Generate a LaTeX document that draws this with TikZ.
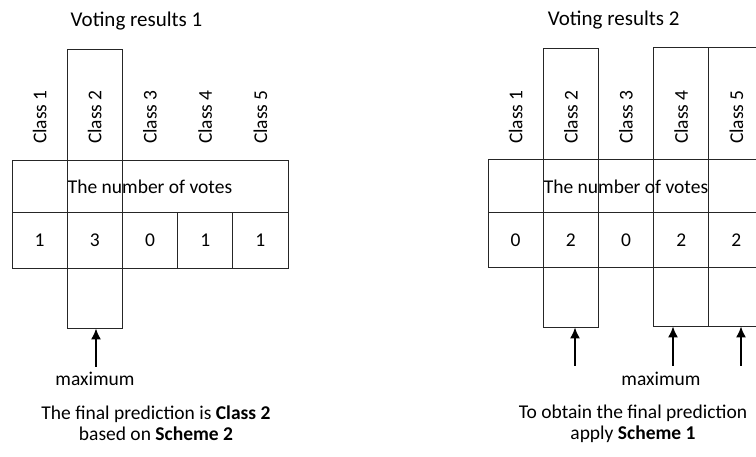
\documentclass[tikz,border=0pt]{standalone}
\usepackage{fontspec}
\setmainfont{Carlito}
\usetikzlibrary{arrows.meta}
\begin{document}
\begin{tikzpicture}[x=1pt,y=-1pt,
  every node/.style={font=\fontsize{19.5}{21}\selectfont, text=black},
  ln/.style={draw=black!85, line width=0.9pt},
  cell/.style={ln, minimum width=55.2pt, minimum height=55.5pt, inner sep=0pt},
  hdr/.style={ln, minimum width=276pt, minimum height=52.5pt, inner sep=0pt},
  tall/.style={ln, minimum width=55.2pt, minimum height=279pt, inner sep=0pt},
  cls/.style={rotate=90, inner sep=0pt},
  ttl/.style={font=\fontsize{21}{23}\selectfont},
  arr/.style={draw=black, line width=1.6pt, -{Latex[length=11pt,width=10pt]}},
  captext/.style={align=center, font=\fontsize{19.5}{20.5}\selectfont}
]
\useasboundingbox (0,0) rectangle (756,457);
\clip (0,0) rectangle (756,457);
% ---------- Left ----------
\node[ttl] (t1) at (136.5,21) {Voting results 1};
\node[tall] (L2) at (94.8,188.5) {};
\node[hdr] (Lh) at (150,186.25) {};
\node (Lht) at (150,187) {The number of votes};
\foreach \i/\v in {1/1,2/3,3/0,4/1,5/1}{
  \node[cell] (Lv\i) at ({12+55.2*(\i-0.5)},240.25) {\v};
  \node[cls] (Lc\i) at ({12+55.2*(\i-0.5)},117) {Class \i};
}
\coordinate (La) at (96,367);
\draw[arr] (La) -- (La |- L2.south);
\node (Lm) at (95,379) {maximum};
\node[captext] (Lf) at (156,423) {The final prediction is \textbf{Class 2}\\based on \textbf{Scheme 2}};
% ---------- Right ----------
\node[ttl] (t2) at (613.7,20) {Voting results 2};
\node[tall] (R2) at (570.8,187.5) {};
\node[tall] (R4) at (681.2,186.5) {};
\node[tall] (R5) at (736.4,186.5) {};
\node[hdr] (Rh) at (626,186) {};
\node (Rht) at (626,187) {The number of votes};
\foreach \i/\v in {1/0,2/2,3/0,4/2,5/2}{
  \node[cell] (Rv\i) at ({488+55.2*(\i-0.5)},239.75) {\v};
  \node[cls] (Rc\i) at ({488+55.2*(\i-0.5)},117) {Class \i};
}
\coordinate (Ra2) at (575,366);
\coordinate (Ra4) at (673,366);
\coordinate (Ra5) at (741,366);
\draw[arr] (Ra2) -- (Ra2 |- R2.south);
\draw[arr] (Ra4) -- (Ra4 |- R4.south);
\draw[arr] (Ra5) -- (Ra5 |- R5.south);
\node (Rm) at (661,379) {maximum};
\node[captext] (Rf) at (633,424) {To obtain the final prediction\\apply \textbf{Scheme 1}};
\end{tikzpicture}
\end{document}
